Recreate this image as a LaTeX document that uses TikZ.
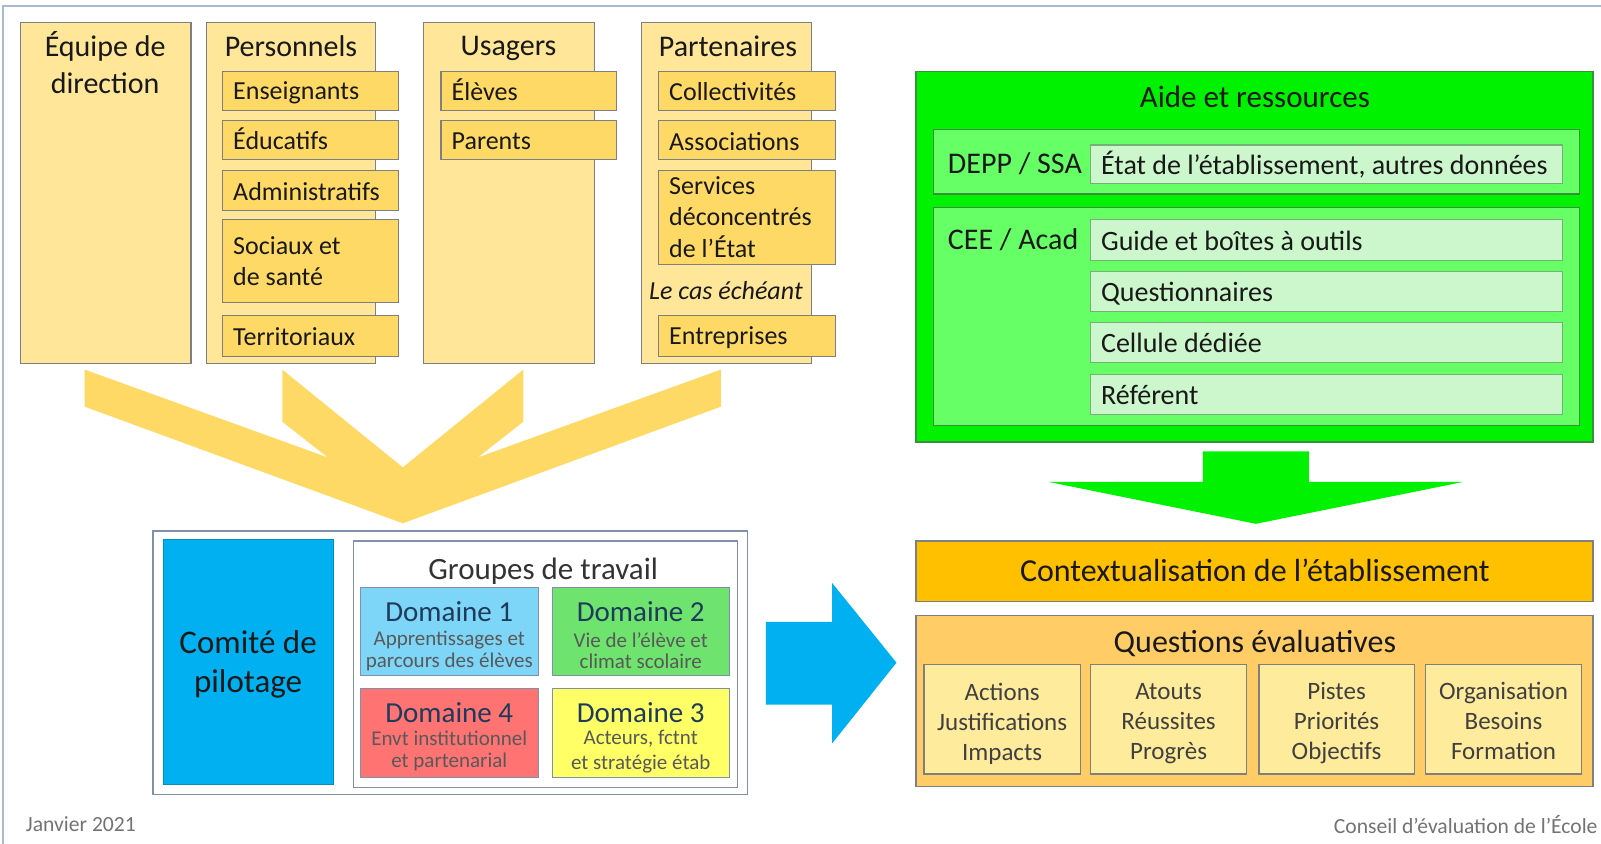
\documentclass[tikz,border=0pt]{standalone}
\usepackage{fontspec}
\setmainfont{Carlito}
\usetikzlibrary{fit}
\definecolor{colfill}{HTML}{FFE699}
\definecolor{subfill}{HTML}{FFD966}
\definecolor{boxline}{HTML}{7F7F7F}
\definecolor{chev}{HTML}{FFD966}
\definecolor{grnA}{HTML}{00F200}
\definecolor{grnB}{HTML}{66FF66}
\definecolor{grnC}{HTML}{CCF7CC}
\definecolor{grnline}{HTML}{3A8F3A}
\definecolor{ctx}{HTML}{FFC000}
\definecolor{qev}{HTML}{FFCC66}
\definecolor{qsub}{HTML}{FFEB9C}
\definecolor{bleu}{HTML}{00B0F0}
\definecolor{dom1}{HTML}{7DD5F7}
\definecolor{dom2}{HTML}{6EE36E}
\definecolor{dom4}{HTML}{FF7373}
\definecolor{dom3}{HTML}{FFFF66}
\definecolor{framecol}{HTML}{A9B7CF}
\definecolor{gbox}{HTML}{8090A8}
\definecolor{domtxt}{HTML}{1F3B5C}
\begin{document}
\begin{tikzpicture}[x=0.5105pt,y=-0.5105pt]
\tikzstyle{every node}=[inner sep=0pt,text=black!90]
\tikzstyle{colbox}=[draw=boxline,fill=colfill,line width=0.7pt]
\tikzstyle{subbox}=[draw=boxline,fill=subfill,line width=0.7pt]
\tikzstyle{coltitle}=[font=\fontsize{15}{18.4}\selectfont,align=center]
\tikzstyle{sublabel}=[font=\fontsize{13}{15.6}\selectfont,anchor=west,align=left]
\tikzstyle{grnbig}=[draw=grnline,fill=grnA,line width=0.7pt]
\tikzstyle{grnmid}=[draw=grnline,fill=grnB,line width=0.6pt]
\tikzstyle{grnsub}=[draw=grnline!70,fill=grnC,line width=0.6pt]
\tikzstyle{grnlab}=[font=\fontsize{15}{18}\selectfont,anchor=west]
\tikzstyle{grntext}=[font=\fontsize{14}{17}\selectfont,anchor=west]
\tikzstyle{bigtitle}=[font=\fontsize{15.5}{18}\selectfont]
\tikzstyle{qbox}=[draw=boxline,fill=qsub,line width=0.6pt]
\tikzstyle{qtext}=[font=\fontsize{12.5}{15}\selectfont,align=center,text=black!75]
\tikzstyle{whitebox}=[draw=gbox,fill=white,line width=0.7pt]
\tikzstyle{dombox}=[draw=gbox,line width=0.5pt]
\tikzstyle{domtitle}=[font=\fontsize{14.5}{17}\selectfont,text=domtxt]
\tikzstyle{domsub}=[font=\fontsize{10.5}{10.7}\selectfont,align=center,text=black!65]
\tikzstyle{foot}=[font=\fontsize{10.8}{13}\selectfont,text=black!55]
\useasboundingbox (0,0) rectangle (1568,826);
\draw[framecol,line width=0.7pt] (3,830) -- (3,6) -- (1572,6);

\node[colbox,fit={(20,22) (187,356)}] (equipe) {};
\node[colbox,fit={(202,22) (368,356)}] (perso) {};
\node[colbox,fit={(415,22) (582,356)}] (usag) {};
\node[colbox,fit={(628,22) (795,356)}] (parten) {};
\node[coltitle] (equipeT) at (103,61) {Équipe de\\direction};
\node[coltitle] (persoT) at (285,45) {Personnels};
\node[coltitle] (usagT) at (498,47) {Usagers};
\node[coltitle] (partenT) at (713,45) {Partenaires};

\node[subbox,fit={(218,70) (390,108)}] (ens) {};
\node[subbox,fit={(218,118) (390,156)}] (educ) {};
\node[subbox,fit={(218,167) (390,206)}] (admin) {};
\node[subbox,fit={(218,215) (390,296)}] (soc) {};
\node[subbox,fit={(218,309) (390,349)}] (terr) {};
\node[sublabel] (ensT) at (228,91) {Enseignants};
\node[sublabel] (educT) at (228,136) {Éducatifs};
\node[sublabel] (adminT) at (228,188) {Administratifs};
\node[sublabel] (socT) at (228,256) {Sociaux et\\de santé};
\node[sublabel] (terrT) at (228,330) {Territoriaux};

\node[subbox,fit={(432,70) (604,108)}] (eleves) {};
\node[subbox,fit={(432,118) (604,156)}] (parents) {};
\node[sublabel] (elevesT) at (442,88) {Élèves};
\node[sublabel] (parentsT) at (442,138) {Parents};

\node[subbox,fit={(645,70) (818,108)}] (coll) {};
\node[subbox,fit={(645,118) (818,156)}] (assoc) {};
\node[subbox,fit={(645,167) (818,259)}] (serv) {};
\node[subbox,fit={(645,309) (818,349)}] (entr) {};
\node[sublabel] (collT) at (655,90) {Collectivités};
\node[sublabel] (assocT) at (655,139) {Associations};
\node[sublabel] (servT) at (655,212.5) {Services\\déconcentrés\\de l’État};
\node[sublabel,anchor=center,font=\fontsize{13}{15.6}\selectfont\itshape] (casT) at (711,285) {Le cas échéant};
\node[sublabel] (entrT) at (655,331) {Entreprises};

\fill[chev] (83,362) -- (321,448) -- (276.5,413) -- (276.5,362) -- (394.5,457.7) -- (512.5,362) -- (512.5,413) -- (468,448) -- (706,362) -- (706,398.3) -- (394.5,512.5) -- (83,398.3) -- cycle;

\node[grnbig,fit={(897,70) (1560,433)}] (aide) {};
\node[bigtitle] (aideT) at (1229,95) {Aide et ressources};
\node[grnmid,fit={(914,127) (1547,190)}] (depp) {};
\node[grnlab] (deppT) at (928,160) {DEPP / SSA};
\node[grnsub,fit={(1068,142) (1530,180)}] (etat) {};
\node[grntext] (etatT) at (1078,161) {État de l’établissement, autres données};
\node[grnmid,fit={(914,203) (1547,417)}] (cee) {};
\node[grnlab] (ceeT) at (928,235) {CEE / Acad};
\node[grnsub,fit={(1068,215) (1530,255)}] (guide) {};
\node[grnsub,fit={(1068,266) (1530,305)}] (quest) {};
\node[grnsub,fit={(1068,316) (1530,355)}] (cell) {};
\node[grnsub,fit={(1068,367) (1530,406)}] (refe) {};
\node[grntext] (guideT) at (1078,236) {Guide et boîtes à outils};
\node[grntext] (questT) at (1078,288) {Questionnaires};
\node[grntext] (cellT) at (1078,336) {Cellule dédiée};
\node[grntext] (refeT) at (1078,387) {Référent};

\fill[grnA] (1178,442) -- (1282,442) -- (1282,472) -- (1433,472) -- (1230,513) -- (1027,472) -- (1178,472) -- cycle;

\node[colbox,fill=ctx,fit={(897,530) (1560,589)}] (ctxbox) {};
\node[bigtitle,font=\fontsize{16}{19}\selectfont] (ctxT) at (1229,559) {Contextualisation de l’établissement};
\node[colbox,fill=qev,fit={(897,603) (1560,770)}] (qevbox) {};
\node[bigtitle,font=\fontsize{16}{19}\selectfont] (qevT) at (1229,630) {Questions évaluatives};
\node[qbox,fit={(905,651) (1058,758)}] (q1) {};
\node[qbox,fit={(1068,651) (1221,758)}] (q2) {};
\node[qbox,fit={(1233,651) (1385,758)}] (q3) {};
\node[qbox,fit={(1396,651) (1549,758)}] (q4) {};
\node[qtext] (q1T) at (981.5,708.5) {Actions\\Justifications\\Impacts};
\node[qtext] (q2T) at (1144.5,708.5) {Atouts\\Réussites\\Progrès};
\node[qtext] (q3T) at (1309,708.5) {Pistes\\Priorités\\Objectifs};
\node[qtext] (q4T) at (1472.5,706.5) {Organisation\\Besoins\\Formation};

\fill[bleu] (750,609) -- (815,609) -- (815,571) -- (878,649) -- (815,728) -- (815,690) -- (750,690) -- cycle;

\node[whitebox,fit={(150,520) (732,778)}] (pilot) {};
\node[draw=bleu!80!black,fill=bleu,line width=0.5pt,fit={(160,528) (327,768)}] (comite) {};
\node[coltitle,font=\fontsize{16.5}{19.5}\selectfont] (comiteT) at (243,651) {Comité de\\pilotage};
\node[whitebox,fit={(346,530) (722,771)}] (groupes) {};
\node[bigtitle,text=black!80] (groupesT) at (532,559) {Groupes de travail};
\node[dombox,fill=dom1,fit={(353,575) (527,662)}] (d1) {};
\node[dombox,fill=dom2,fit={(541,575) (714,662)}] (d2) {};
\node[dombox,fill=dom4,fit={(353,674) (527,761)}] (d4) {};
\node[dombox,fill=dom3,fit={(541,674) (714,761)}] (d3) {};
\node[domtitle] (d1T) at (440,599) {Domaine 1};
\node[domtitle] (d2T) at (627.5,599) {Domaine 2};
\node[domtitle] (d4T) at (440,698) {Domaine 4};
\node[domtitle] (d3T) at (627.5,698) {Domaine 3};
\node[domsub] (d1S) at (440,637.5) {Apprentissages et\\parcours des élèves};
\node[domsub] (d2S) at (627.5,637.5) {Vie de l’élève et\\climat scolaire};
\node[domsub] (d4S) at (440,735.5) {Envt institutionnel\\et partenarial};
\node[domsub,font=\fontsize{10.5}{12.6}\selectfont] (d3S) at (627.5,736) {Acteurs, fctnt\\et stratégie étab};

\node[foot,anchor=west] (date) at (25,807) {Janvier 2021};
\node[foot,anchor=east] (conseil) at (1565,808) {Conseil d’évaluation de l’École};
\end{tikzpicture}
\end{document}
